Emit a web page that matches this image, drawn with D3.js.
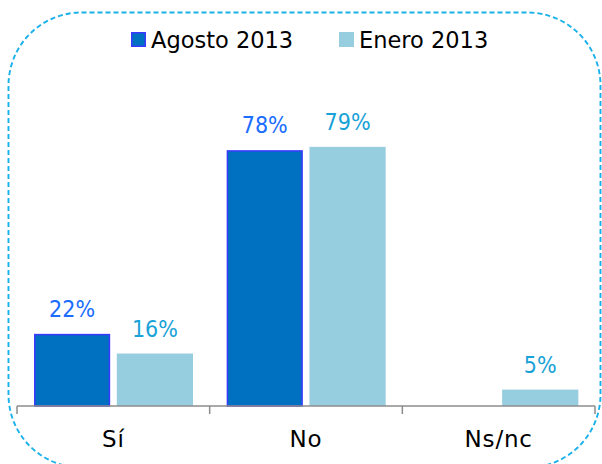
<!DOCTYPE html>
<html>
<head>
<meta charset="utf-8">
<script src="https://cdn.jsdelivr.net/npm/d3@7"></script>
<style>
html,body{margin:0;padding:0;background:#fff;}
svg{display:block;}
</style>
</head>
<body>
<svg id="chart" width="602" height="464"></svg>
<script>
const categories = ["Sí", "No", "Ns/nc"];
const seriesNames = ["Agosto 2013", "Enero 2013"];
const agosto2013 = [22, 78, null];
const enero2013 = [16, 79, 5];

const seriesValues = [agosto2013, enero2013];
const fills = ["#0070c0", "#96cddf"];
const strokes = ["#3a3aff", "none"];
const labelColors = ["#1a6dff", "#17a2d8"];

const svg = d3.select("#chart");

// dashed rounded frame
svg.append("rect")
  .attr("x", 8.5).attr("y", 12.5)
  .attr("width", 592).attr("height", 455)
  .attr("rx", 73).attr("ry", 73)
  .attr("fill", "none")
  .attr("stroke", "#1ab0ea")
  .attr("stroke-width", 1.9)
  .attr("stroke-dasharray", "5,3");

const x = d3.scaleBand().domain(categories).range([17, 595]).paddingInner(0).paddingOuter(0);
const xs = d3.scaleBand().domain(seriesNames).range([17, 176]).paddingInner(0.08);
const y = d3.scaleLinear().domain([0, 100]).range([406, 78]);

const data = [];
categories.forEach((c, i) => {
  seriesNames.forEach((s, j) => {
    const v = seriesValues[j][i];
    if (v !== null && v !== undefined) data.push({c, s, j, v});
  });
});

// bars
svg.append("g").selectAll("rect").data(data).join("rect")
  .attr("x", d => x(d.c) + xs(d.s) + (d.j === 0 ? 0.75 : 0))
  .attr("y", d => y(d.v) + (d.j === 0 ? 0.75 : 0))
  .attr("width", d => xs.bandwidth() - (d.j === 0 ? 1.5 : 0))
  .attr("height", d => y(0) - y(d.v) - (d.j === 0 ? 0.75 : 0))
  .attr("fill", d => fills[d.j])
  .attr("stroke", d => strokes[d.j])
  .attr("stroke-width", 1.5);

// value labels
svg.append("g").selectAll("text").data(data).join("text")
  .attr("x", d => x(d.c) + xs(d.s) + xs.bandwidth() / 2)
  .attr("y", d => y(d.v) - 17)
  .attr("text-anchor", "middle")
  .attr("font-family", "'DejaVu Sans Condensed', 'DejaVu Sans', sans-serif")
  .attr("font-stretch", "condensed")
  .attr("font-size", 23)
  .attr("fill", d => labelColors[d.j])
  .text(d => d.v + "%");

// x axis
const axis = d3.axisBottom(x).tickSize(0).tickPadding(0);
const gx = svg.append("g").attr("transform", "translate(0,406)").call(axis);
gx.select(".domain").attr("stroke", "#8c8c8c").attr("stroke-width", 1.5)
  .attr("d", "M17,0H595");
gx.selectAll(".tick text")
  .attr("y", 41)
  .attr("dy", 0)
  .attr("font-family", "'DejaVu Sans', sans-serif")
  .attr("font-size", 23)
  .attr("letter-spacing", 0.8)
  .attr("fill", "#000");
// boundary ticks
const bounds = categories.map(c => x(c)).concat([x(categories[categories.length - 1]) + x.bandwidth()]);
gx.append("g").selectAll("line").data(bounds).join("line")
  .attr("x1", d => d).attr("x2", d => d)
  .attr("y1", 0).attr("y2", 8)
  .attr("stroke", "#8c8c8c").attr("stroke-width", 1.5);

// legend
const legendX = [131, 339];
const lg = svg.append("g").selectAll("g").data(seriesNames).join("g")
  .attr("transform", (d, i) => `translate(${legendX[i]},0)`);
lg.append("rect")
  .attr("x", (d, i) => i === 0 ? 0.75 : 0)
  .attr("y", (d, i) => i === 0 ? 32.75 : 32)
  .attr("width", (d, i) => i === 0 ? 13.5 : 15)
  .attr("height", (d, i) => i === 0 ? 13.5 : 15)
  .attr("fill", (d, i) => fills[i])
  .attr("stroke", (d, i) => strokes[i])
  .attr("stroke-width", 1.5);
lg.append("text")
  .attr("x", 20).attr("y", 47.5)
  .attr("font-family", "'DejaVu Sans', sans-serif")
  .attr("font-size", 22.5)
  .attr("fill", "#000")
  .text(d => d);
</script>
</body>
</html>
